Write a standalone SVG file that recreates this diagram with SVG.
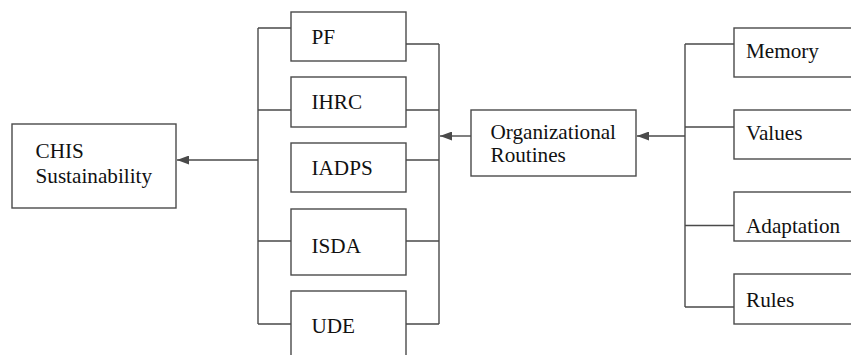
<svg xmlns="http://www.w3.org/2000/svg" width="851" height="355" viewBox="0 0 851 355">
<style>
.box{fill:#fff;stroke:#4a4a4a;stroke-width:1.4}
.ln{fill:none;stroke:#4a4a4a;stroke-width:1.4}
.t{font-family:'Liberation Serif','Times New Roman','DejaVu Serif',serif;font-size:21.2px;fill:#111}
</style>
<defs>
<marker id="arr" markerUnits="userSpaceOnUse" markerWidth="12" markerHeight="9" refX="12" refY="4.5" orient="auto">
<path d="M0,0 L12,4.5 L0,9 z" fill="#4a4a4a"/>
</marker>
</defs>
<rect width="851" height="355" fill="#fff"/>
<g id="connectors">
<path class="ln" d="M258,160 H177" marker-end="url(#arr)"/>
<path class="ln" d="M258,28 V324 M258,28 H291 M258,110 H291 M258,241 H291 M258,324 H291"/>
<path class="ln" d="M439,44 V324 M406,44 H439 M406,110 H439 M406,160 H439 M406,241 H439 M406,324 H439"/>
<path class="ln" d="M471,136 H440" marker-end="url(#arr)"/>
<path class="ln" d="M685,136 H637" marker-end="url(#arr)"/>
<path class="ln" d="M685,44 V307 M685,44 H734 M685,127 H734 M685,225.5 H734 M685,307 H734"/>
</g>
<g class="t">
<g id="chis"><rect class="box" x="12" y="124" width="164" height="84"/><text x="35.5" y="158">CHIS</text><text x="35.5" y="182.5">Sustainability</text></g>
<g id="pf"><rect class="box" x="291" y="12" width="115" height="49"/><text x="311.5" y="43.5">PF</text></g>
<g id="ihrc"><rect class="box" x="291" y="77" width="115" height="50"/><text x="311.5" y="109">IHRC</text></g>
<g id="iadps"><rect class="box" x="291" y="143" width="115" height="49"/><text x="311.5" y="175">IADPS</text></g>
<g id="isda"><rect class="box" x="291" y="209" width="115" height="66"/><text x="311.5" y="252.5">ISDA</text></g>
<g id="ude"><rect class="box" x="291" y="291" width="115" height="80"/><text x="311.5" y="333">UDE</text></g>
<g id="routines"><rect class="box" x="471" y="110" width="165" height="66"/><text x="490.5" y="139">Organizational</text><text x="490.5" y="161.5">Routines</text></g>
<g id="memory"><rect class="box" x="734" y="28" width="130" height="49"/><text x="746" y="58">Memory</text></g>
<g id="values"><rect class="box" x="734" y="110" width="130" height="49"/><text x="746" y="140">Values</text></g>
<g id="adaptation"><rect class="box" x="734" y="192" width="130" height="49"/><text x="746" y="233">Adaptation</text></g>
<g id="rules"><rect class="box" x="734" y="274" width="130" height="50"/><text x="746" y="307">Rules</text></g>
</g>
</svg>
